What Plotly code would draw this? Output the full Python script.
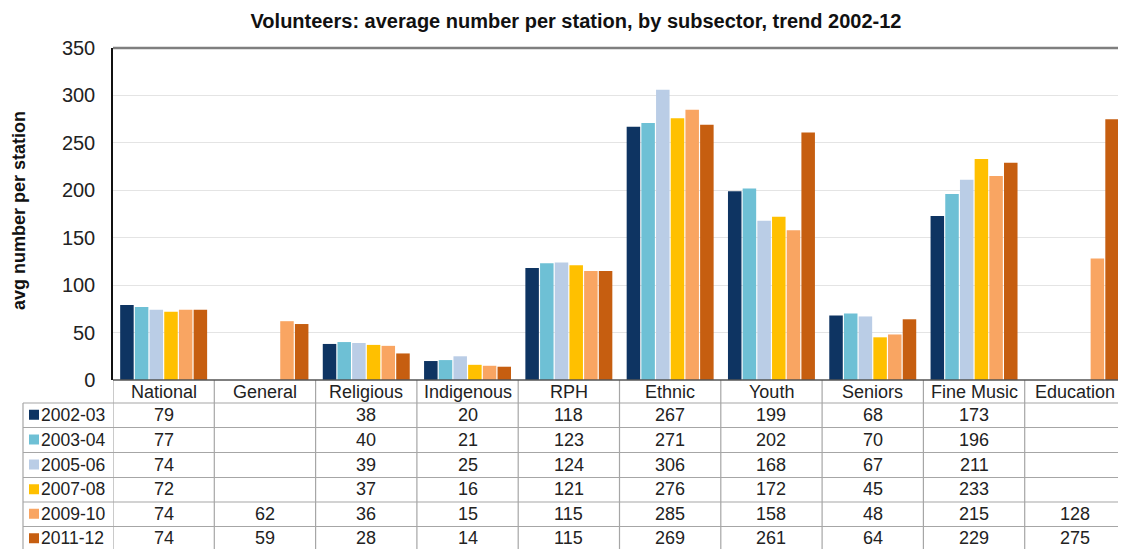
import plotly.graph_objects as go

categories = ["National", "General", "Religious", "Indigenous", "RPH", "Ethnic",
              "Youth", "Seniors", "Fine Music", "Education"]
years = ["2002-03", "2003-04", "2005-06", "2007-08", "2009-10", "2011-12"]
v2002_03 = [79, None, 38, 20, 118, 267, 199, 68, 173, None]
v2003_04 = [77, None, 40, 21, 123, 271, 202, 70, 196, None]
v2005_06 = [74, None, 39, 25, 124, 306, 168, 67, 211, None]
v2007_08 = [72, None, 37, 16, 121, 276, 172, 45, 233, None]
v2009_10 = [74, 62, 36, 15, 115, 285, 158, 48, 215, 128]
v2011_12 = [74, 59, 28, 14, 115, 269, 261, 64, 229, 275]
series = [v2002_03, v2003_04, v2005_06, v2007_08, v2009_10, v2011_12]
colors = ["#0E3462", "#6EC0D5", "#BACDE6", "#FFC000", "#F9A562", "#C65E10"]

# page body has an 8px margin: compensate so the plot sits where the reference has it
OFF = 8
W, H = 1118, 541
ML, MR, MT, MB = 105, 0, 40, 169
PW, PH = W - ML - MR, H - MT - MB
FONT = "Liberation Sans, Arial, sans-serif"


def px_x(px):
    return (px - OFF - ML) / PW


def px_y(py):
    return (H - MB - (py - OFF)) / PH


fig = go.Figure()
for name, vals, col in zip(years, series, colors):
    fig.add_trace(go.Bar(x=categories, y=vals, name=name, marker_color=col,
                         marker_line_width=0, showlegend=False))

shapes = []
annotations = []

header_y = 392
row_lines = [403, 427.5, 452.5, 477.5, 502, 526.5, 551]
row_centers = [(row_lines[i] + row_lines[i + 1]) / 2 - 0.5 for i in range(6)]
grid_col = "#A6A6A6"
TXT = "#222"

for c in categories:
    annotations.append(dict(x=c, xref="x", y=px_y(header_y), yref="paper",
                            text=c, showarrow=False, xanchor="center", yanchor="middle",
                            font=dict(family=FONT, size=18, color=TXT)))
for r, (name, vals, col) in enumerate(zip(years, series, colors)):
    yc = px_y(row_centers[r])
    for c, v in zip(categories, vals):
        if v is None:
            continue
        annotations.append(dict(x=c, xref="x", y=yc, yref="paper", text=str(v),
                                showarrow=False, xanchor="center", yanchor="middle",
                                font=dict(family=FONT, size=18, color=TXT)))
    shapes.append(dict(type="rect", xref="paper", yref="paper",
                       x0=px_x(29), x1=px_x(39), y0=yc - 5 / PH, y1=yc + 5 / PH,
                       fillcolor=col, line_width=0))
    annotations.append(dict(x=px_x(39), xref="paper", y=yc, yref="paper", text=name,
                            showarrow=False, xanchor="left", yanchor="middle",
                            font=dict(family=FONT, size=17.5, color=TXT)))

for ly in row_lines:
    shapes.append(dict(type="line", xref="paper", yref="paper",
                       x0=px_x(23), x1=1.0, y0=px_y(ly), y1=px_y(ly),
                       line=dict(color=grid_col, width=1.2)))
for i in range(len(categories) + 1):
    shapes.append(dict(type="line", xref="x", yref="paper",
                       x0=i - 0.5, x1=i - 0.5, y0=0, y1=px_y(551),
                       line=dict(color=grid_col, width=1.2)))
shapes.append(dict(type="line", xref="paper", yref="paper",
                   x0=px_x(23), x1=px_x(23), y0=px_y(403), y1=px_y(551),
                   line=dict(color=grid_col, width=1.2)))
shapes.append(dict(type="line", xref="paper", yref="paper", x0=0, x1=1, y0=1, y1=1,
                   line=dict(color="#7F7F7F", width=2.5)))
shapes.append(dict(type="line", xref="paper", yref="paper", x0=0, x1=1, y0=0, y1=0,
                   line=dict(color="#555", width=1.5)))

annotations.append(dict(x=px_x(19), xref="paper", y=px_y(211), yref="paper",
                        text="<b>avg number per station</b>", textangle=-90,
                        showarrow=False, xanchor="center", yanchor="middle",
                        font=dict(family=FONT, size=18, color="#111")))

fig.update_layout(
    width=W, height=H,
    margin=dict(l=ML, r=MR, t=MT, b=MB, pad=0),
    paper_bgcolor="white", plot_bgcolor="white",
    barmode="group", bargap=0.13, bargroupgap=0.08,
    title=dict(text="<b>Volunteers: average number per station, by subsector, trend 2002-12</b>",
               x=(576 - OFF) / W, xanchor="center",
               y=1 - (21 - OFF) / H, yanchor="middle",
               font=dict(family=FONT, size=20, color="#111")),
    xaxis=dict(showticklabels=False, showgrid=False, zeroline=False, showline=False,
               range=[-0.5, len(categories) - 0.5]),
    yaxis=dict(range=[0, 350], dtick=50, showgrid=True, gridcolor="#E4E4E4",
               gridwidth=1, zeroline=False, showline=True, linecolor="#111",
               linewidth=1.5, ticks="", ticklabelstandoff=12,
               tickfont=dict(family=FONT, size=20, color=TXT)),
    shapes=shapes, annotations=annotations,
    font=dict(family=FONT),
)

fig.write_html("out.html")
